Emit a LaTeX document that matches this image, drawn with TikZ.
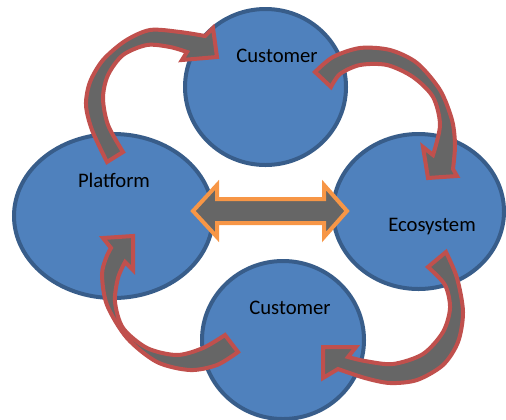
\documentclass[tikz,border=0pt]{standalone}
\usepackage{fontspec}
\setmainfont{Carlito}
\usetikzlibrary{shapes.geometric}
\definecolor{bubblefill}{HTML}{4F81BD}
\definecolor{bubbleline}{HTML}{385D8A}
\definecolor{arrowred}{HTML}{C0504D}
\definecolor{arrowgray}{HTML}{666666}
\definecolor{arroworange}{HTML}{F79646}
\begin{document}
\begin{tikzpicture}[x=0.75pt,y=-0.75pt,
	bubble/.style={ellipse,draw=bubbleline,fill=bubblefill,line width=3pt,inner sep=0pt},
	bendarrow/.style={draw=arrowred,fill=arrowgray,line width=3pt,line join=miter},
	linkarrow/.style={draw=arroworange,fill=arrowgray,line width=3pt,line join=miter},
	word/.style={font=\fontsize{15.5}{18}\selectfont,text=black,inner sep=0pt}]
		\useasboundingbox (0,0) rectangle (506,419);
		
		\node[bubble,minimum width=120.75pt,minimum height=117pt] (custtop) at (265.5,87) {};
		\node[bubble,minimum width=149.25pt,minimum height=123pt] (platform) at (113.5,216) {};
		\node[bubble,minimum width=128.25pt,minimum height=116.25pt] (ecosystem) at (418.5,211.5) {};
		\node[bubble,minimum width=121.5pt,minimum height=118.5pt] (custbot) at (283,340) {};
		
		\filldraw[bendarrow] plot[smooth] coordinates {(107,162) (92,130) (86,105) (90,82) (103,60) (125,41) (150,30) (180,32) (205,36)}
		-- (213,28) -- (217,57) -- (182,60)
		-- plot[smooth] coordinates {(187,52) (170,47) (147,45) (123,55) (108,75) (103,98) (108,125) (123,152)} -- cycle;
		
		\filldraw[bendarrow] plot[smooth] coordinates {(315,72) (333,57) (360,48) (390,50) (417,63) (440,90) (452,120) (455,145) (453,169)}
		-- (457,176) -- (428,178) -- (423,147)
		-- plot[smooth] coordinates {(433,155) (440,125) (433,97) (413,77) (387,65) (360,65) (340,74) (331,87)} -- cycle;
		
		\filldraw[bendarrow] plot[smooth] coordinates {(446,252) (457,278) (463,312) (458,342) (443,365) (417,380) (390,383) (365,378) (338,369)}
		-- (323,378) -- (323,347) -- (356,347)
		-- plot[smooth] coordinates {(348,357) (365,361) (393,364) (423,354) (443,332) (450,308) (445,285) (428,267)} -- cycle;
		
		\filldraw[bendarrow] plot[smooth] coordinates {(238,352) (217,365) (190,370) (157,362) (127,338) (107,305) (102,275) (106,258) (111,248)}
		-- (103,238) -- (133,236) -- (133,270)
		-- plot[smooth] coordinates {(125,262) (118,278) (115,302) (123,328) (147,348) (177,355) (203,348) (225,335)} -- cycle;
		
		\filldraw[linkarrow] (193,211) -- (217,185) -- (217,199) -- (324,199) -- (324,185) -- (347,211)
		-- (324,237) -- (324,223) -- (217,223) -- (217,237) -- cycle;
		
		\node[word] (custtoptext) at (277,56) {Customer};
		\node[word] (platformtext) at (114,180) {Platform};
		\node[word] (ecosystemtext) at (432,227) {Ecosystem};
		\node[word] (custbottext) at (290,307.5) {Customer};
\end{tikzpicture}
\end{document}
